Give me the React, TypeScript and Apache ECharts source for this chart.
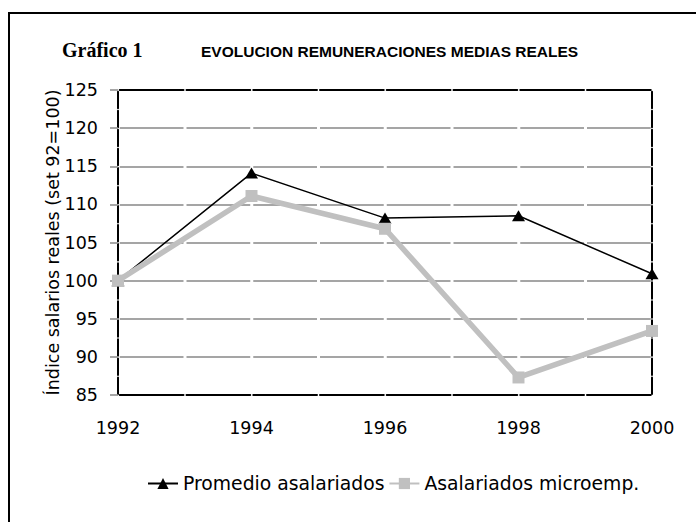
import React, { useEffect, useRef } from "react";
import * as echarts from "echarts";

const years = ["1992", "1994", "1996", "1998", "2000"];
const promedio = [100, 114.1, 108.2, 108.5, 100.9];
const microemp = [100, 111.1, 106.8, 87.3, 93.4];
const yMin = 85;
const yMax = 125;
const yStep = 5;
const titleLeft = "Gráfico 1";
const titleMain = "EVOLUCION REMUNERACIONES MEDIAS REALES";
const yName = "Índice salarios reales (set 92=100)";
const seriesNames = ["Promedio asalariados", "Asalariados microemp."];

const SANS = "'DejaVu Sans', sans-serif";

export default function App() {
  const ref = useRef<HTMLDivElement>(null);
  useEffect(() => {
    if (!ref.current) return;
    const chart = echarts.init(ref.current, null, { renderer: "svg" });
    const hDash = { type: [63.75, 3] as any, dashOffset: 65.25 };
    const vDash = { type: [16.5, 2.55] as any, dashOffset: 17.775 };
    chart.setOption({
      animation: false,
      backgroundColor: "#fff",
      grid: { left: 118, right: 44, top: 90, bottom: 127, containLabel: false },
      graphic: [
        {
          type: "rect",
          shape: { x: 9, y: 13, width: 720, height: 540 },
          style: { fill: "none", stroke: "#000", lineWidth: 2 },
          silent: true,
        },
        {
          type: "text",
          x: 62,
          y: 50,
          style: {
            text: titleLeft,
            font: "bold 20px 'Liberation Serif', serif",
            fill: "#000",
            verticalAlign: "middle",
          },
        },
        {
          type: "text",
          x: 201,
          y: 51,
          style: {
            text: titleMain,
            font: "bold 15.5px 'Liberation Sans', Arial, sans-serif",
            fill: "#000",
            verticalAlign: "middle",
          },
        },
      ],
      legend: {
        left: 142,
        top: 469,
        itemWidth: 30,
        itemHeight: 14,
        itemGap: 4,
        textStyle: { fontFamily: SANS, fontSize: 18.8, color: "#000" },
        data: seriesNames,
      },
      xAxis: [
        {
          type: "category",
          data: years,
          boundaryGap: false,
          axisLine: { lineStyle: { color: "#000", width: 2, ...hDash } },
          axisTick: { show: false },
          axisLabel: { fontFamily: SANS, fontSize: 17.5, color: "#000", margin: 24 },
          splitLine: { show: false },
        },
        {
          type: "category",
          data: years,
          boundaryGap: false,
          position: "top",
          axisLine: { lineStyle: { color: "#000", width: 2, ...hDash } },
          axisTick: { show: false },
          axisLabel: { show: false },
          splitLine: { show: false },
        },
      ],
      yAxis: [
        {
          type: "value",
          min: yMin,
          max: yMax,
          interval: yStep,
          name: yName,
          nameLocation: "middle",
          nameRotate: 90,
          nameGap: 56,
          nameMoveOverlap: false,
          nameTextStyle: { fontFamily: SANS, fontSize: 17.5, color: "#000" },
          axisLine: { show: true, lineStyle: { color: "#000", width: 2, ...vDash } },
          axisTick: { show: true, length: 8, lineStyle: { color: "#888", width: 1.5 } },
          axisLabel: { fontFamily: SANS, fontSize: 17.5, color: "#000", margin: 20 },
          splitLine: { show: true, lineStyle: { color: "#888", width: 1.5, ...hDash } },
        },
        {
          type: "value",
          min: yMin,
          max: yMax,
          interval: yStep,
          position: "right",
          axisLine: { show: true, lineStyle: { color: "#000", width: 2, ...vDash } },
          axisTick: { show: false },
          axisLabel: { show: false },
          splitLine: { show: false },
        },
      ],
      series: [
        {
          name: seriesNames[0],
          type: "line",
          data: promedio,
          symbol: "triangle",
          symbolSize: [13, 11],
          lineStyle: { color: "#000", width: 1.5 },
          itemStyle: { color: "#000" },
          z: 3,
        },
        {
          name: seriesNames[1],
          type: "line",
          data: microemp,
          symbol: "rect",
          symbolSize: 12,
          lineStyle: { color: "#c0c0c0", width: 5.5 },
          itemStyle: { color: "#c0c0c0" },
          z: 4,
        },
      ],
    });
    return () => chart.dispose();
  }, []);
  return <div ref={ref} style={{ width: 696, height: 522, position: "absolute", left: 0, top: 0 }} />;
}
